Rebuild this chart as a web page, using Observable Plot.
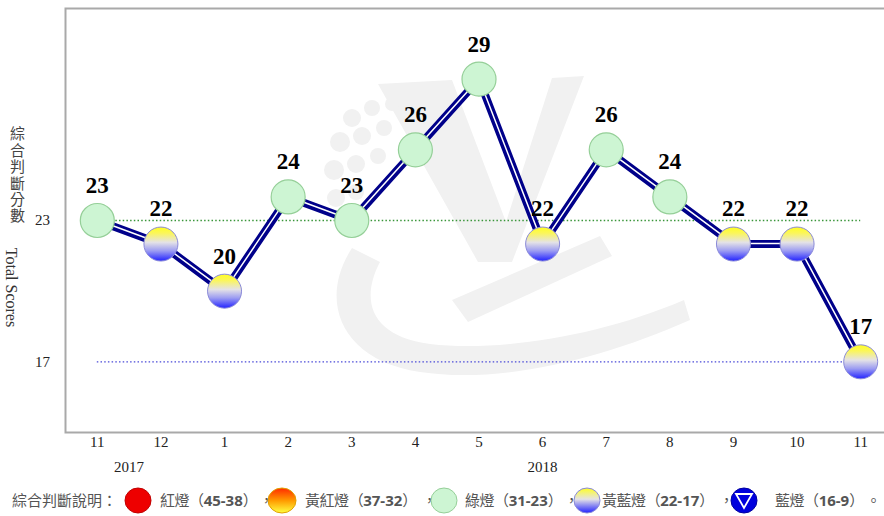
<!DOCTYPE html>
<html><head><meta charset="utf-8">
<script src="https://cdn.jsdelivr.net/npm/d3@7"></script>
<script src="https://cdn.jsdelivr.net/npm/@observablehq/plot@0.6"></script>
<style>
html,body{margin:0;padding:0;background:#fff;}
body{width:884px;height:516px;overflow:hidden;position:relative;}
#chart svg{display:block;}
#legend{position:absolute;left:0;top:486px;width:884px;height:28px;font-family:"Noto Sans CJK TC","Noto Sans",sans-serif;font-size:15px;color:#555;}
#legend .it{position:absolute;top:0;height:28px;line-height:28px;white-space:nowrap;}
#legend .lab{letter-spacing:-0.45px;}
#legend .num{font-weight:bold;font-family:"Liberation Sans Narrow","Noto Sans",sans-serif;letter-spacing:0;}
#legend svg{position:absolute;top:1px;}
</style>
</head><body>
<div id="chart"></div>
<div id="legend"></div>
<script>
// ---- data ----
const months = ["11","12","1","2","3","4","5","6","7","8","9","10","11"];
const scores = [23,22,20,24,23,26,29,22,26,24,22,22,17];
const yearLabels = ["2017","2018"];
const yearAt = [0.5, 7];          // month index where each year label sits
const yTicks = [23, 17];
const refLines = [23, 17];
const yTitleZh = "綜合判斷分數";
const yTitleEn = "Total Scores";
const legendNames = ["紅燈","黃紅燈","綠燈","黃藍燈","藍燈"];
const legendRanges = ["45-38","37-32","31-23","22-17","16-9"];

const data = months.map((m, i) => ({i, month: m, score: scores[i]}));
const greenPts = data.filter(d => d.score >= 23);
const ybPts = data.filter(d => d.score <= 22 && d.score >= 17);
const years = yearLabels.map((t, k) => ({t, at: yearAt[k]}));
const serif = "Liberation Serif, Times New Roman, serif";

const plot = Plot.plot({
  width: 884, height: 484,
  marginLeft: 65, marginRight: -8, marginTop: 8, marginBottom: 52,
  x: {type: "linear", domain: [-0.5, months.length - 0.5], axis: null},
  y: {domain: [14, 32], axis: null},
  style: {background: "white", fontFamily: serif},
  marks: [
    Plot.frame({stroke: "#a9a9a9", strokeWidth: 2}),
    Plot.ruleY([refLines[0]], {x1: () => 0, x2: () => months.length - 1, stroke: "#3a963a", strokeWidth: 1.4, strokeDasharray: "1.5,2.2"}),
    Plot.ruleY([refLines[1]], {x1: () => 0, x2: () => months.length - 1, stroke: "#4a4ad8", strokeWidth: 1.4, strokeDasharray: "1.5,2.2"}),
    Plot.line(data, {x: "i", y: "score", stroke: "#00008a", strokeWidth: 8, strokeLinejoin: "miter"}),
    Plot.line(data, {x: "i", y: "score", stroke: "white", strokeWidth: 1.5, dy: -0.5}),
    Plot.dot(greenPts, {x: "i", y: "score", r: 17, fill: "#cdf5d3", stroke: "#95cf98", strokeWidth: 1.2}),
    Plot.dot(ybPts, {x: "i", y: "score", r: 17, fill: "url(#yb)", stroke: "#8a8ad8", strokeWidth: 1}),
    Plot.text(data, {x: "i", y: "score", text: d => String(d.score), dy: -35, fontSize: 23, fontWeight: "bold", fill: "black", fontFamily: serif}),
    Plot.text(data, {x: "i", text: "month", frameAnchor: "bottom", dy: 14, fontSize: 15, fill: "#222", fontFamily: serif}),
    Plot.text(years, {x: "at", text: "t", frameAnchor: "bottom", dy: 39, fontSize: 15, fill: "#222", fontFamily: serif}),
    Plot.text(yTicks, {y: d => d, text: d => String(d), frameAnchor: "left", textAnchor: "middle", dx: -23, fontSize: 15, fill: "#222", fontFamily: serif}),
    Plot.text([yTitleZh], {frameAnchor: "top-left", textAnchor: "start", dx: -48, dy: 107, fontSize: 15, fill: "#444", fontFamily: "Noto Sans CJK TC, sans-serif"}),
    Plot.text([yTitleEn], {frameAnchor: "top-left", textAnchor: "middle", rotate: 90, dx: -48, dy: 279, fontSize: 16, fill: "#333", fontFamily: serif})
  ]
});

const svg = d3.select(plot);
// set the Chinese axis title in vertical writing mode (one text, stacked characters)
svg.selectAll("text").filter(function() { return this.textContent === yTitleZh; })
  .attr("writing-mode", "vertical-rl").attr("dy", null).style("letter-spacing", "1.4px");

const defs = svg.insert("defs", ":first-child");
const gr = defs.append("linearGradient").attr("id", "yb").attr("x1", 0).attr("y1", 0).attr("x2", 0).attr("y2", 1);
[[0, "#ffff22"], [0.18, "#fbf65a"], [0.45, "#e4e2e6"], [0.7, "#9c9cf2"], [1, "#2222ff"]].forEach(([o, c]) => gr.append("stop").attr("offset", o).attr("stop-color", c));

// faint background watermark (decoration only), placed behind all marks
const wm = svg.insert("g", "defs + *").attr("fill", "#f1f1f1").attr("stroke", "none");
wm.append("path").attr("d", "M378,84 L452,80 L506,222 L552,78 L584,76 L512,262 L478,262 Z");
wm.append("path").attr("d", "M352,248 C318,300 340,360 420,372 C500,384 600,360 690,320 L684,300 C600,336 500,352 430,344 C370,336 360,300 380,262 Z");
wm.append("path").attr("d", "M452,300 L600,236 L612,256 L468,322 Z");
[[352,118,9],[372,108,8],[392,104,7],[340,142,10],[362,136,9],[384,128,8],[334,170,10],[356,164,9],[378,156,8],[336,198,9],[356,192,8],[344,224,8]].forEach(([x,y,r]) => wm.append("circle").attr("cx", x).attr("cy", y).attr("r", r));

document.getElementById("chart").appendChild(plot);

// ---- legend ----
const lg = d3.select("#legend");
function add(left, html, cls) { lg.append("div").attr("class", "it" + (cls ? " " + cls : "")).style("left", left + "px").html(html); }
function icon(cx, kind) {
  const s = lg.append("svg").attr("width", 30).attr("height", 28).style("left", (cx - 15) + "px");
  const d = s.append("defs");
  if (kind === 1) {
    const g = d.append("linearGradient").attr("id", "lgo").attr("x1", 0).attr("y1", 0).attr("x2", 0).attr("y2", 1);
    [[0, "#ff2a00"], [0.5, "#ff9a00"], [1, "#ffff40"]].forEach(([o, c]) => g.append("stop").attr("offset", o).attr("stop-color", c));
  }
  if (kind === 3) {
    const g = d.append("linearGradient").attr("id", "lgy").attr("x1", 0).attr("y1", 0).attr("x2", 0).attr("y2", 1);
    [[0, "#ffff22"], [0.45, "#e4e2e6"], [1, "#2222ff"]].forEach(([o, c]) => g.append("stop").attr("offset", o).attr("stop-color", c));
  }
  const fills = ["#ee0000", "url(#lgo)", "#cdf5d3", "url(#lgy)", "#0000dd"];
  const strokes = ["#c00000", "#e0a000", "#95cf98", "#8a8ad8", "#0000a0"];
  s.append("ellipse").attr("cx", 15).attr("cy", 13.5).attr("rx", kind === 1 ? 14 : 13).attr("ry", 12.5)
    .attr("fill", fills[kind]).attr("stroke", strokes[kind]).attr("stroke-width", 1);
  if (kind === 4) s.append("path").attr("d", "M7,7 L23,7 L15,21 Z").attr("fill", "none").attr("stroke", "white").attr("stroke-width", 1.8);
}
add(12, "綜合判斷說明：");
const iconX = [138, 282, 444, 587, 744];
const textX = [160, 305, 465, 602, 775];
const commaX = [259, 422, 564, 719];
legendNames.forEach((n, k) => {
  icon(iconX[k], k);
  add(textX[k], n + "（<span class='num'>" + legendRanges[k] + "</span>）", "lab");
  if (k < commaX.length) add(commaX[k], "，");
});
add(866, "。");
</script>
</body></html>
